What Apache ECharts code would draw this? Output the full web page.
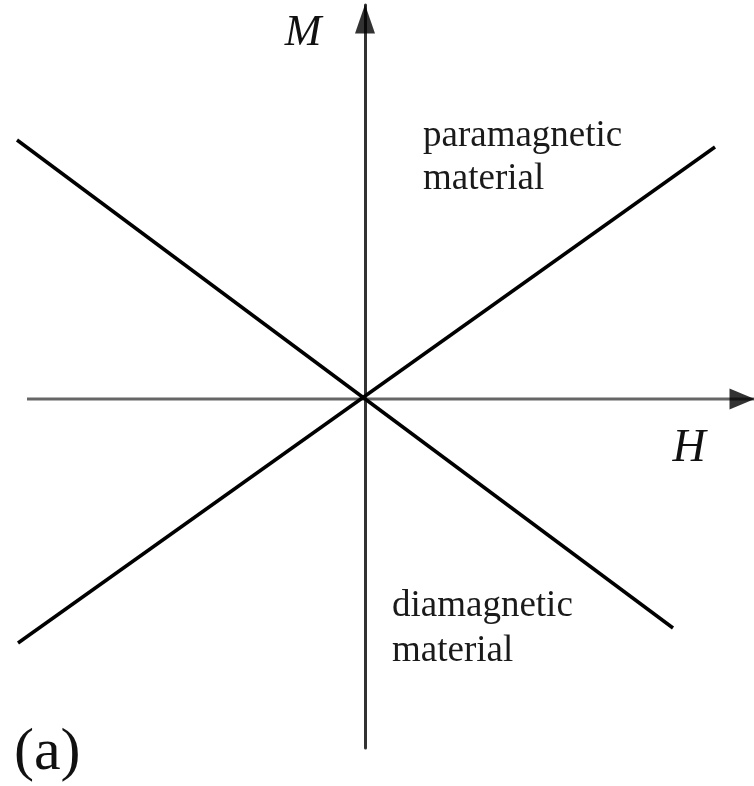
<!DOCTYPE html>
<html>
<head>
<meta charset="utf-8">
<script src="https://cdn.jsdelivr.net/npm/echarts@6/dist/echarts.min.js"></script>
<style>
  html, body { margin: 0; padding: 0; background: #fff; }
  #chart { width: 754px; height: 786px; }
</style>
</head>
<body>
<div id="chart"></div>
<script>
// Magnetization M versus applied field H (arbitrary units)
const paraH = [-3.47, 3.50];   // paramagnetic: M grows with H
const paraM = [-2.44, 2.52];
const diaH = [-3.48, 3.08];    // diamagnetic: M opposes H
const diaM = [2.59, -2.29];

// visible extent of the H axis line, and the plotted H / M ranges
const hAxisLine = [-3.38, 3.89];
const hRange = [-3.60, 3.89];
const mRange = [-3.49, 3.94];

const axisNames = { h: 'H', m: 'M' };
const regionLabels = {
  para: ['paramagnetic', 'material'],
  dia: ['diamagnetic', 'material']
};
const panelTag = '(a)';

const toPairs = (xs, ys) => xs.map((x, i) => [x, ys[i]]);

const serif = '"Liberation Serif", "DejaVu Serif", serif';

const chart = echarts.init(document.getElementById('chart'), null, { renderer: 'canvas' });

chart.setOption({
  animation: false,
  backgroundColor: '#ffffff',
  grid: { left: 5, right: 0, top: 5, bottom: 38 },
  xAxis: {
    type: 'value',
    min: hRange[0],
    max: hRange[1],
    axisLine: { show: false },
    axisTick: { show: false },
    axisLabel: { show: false },
    splitLine: { show: false }
  },
  yAxis: {
    type: 'value',
    min: mRange[0],
    max: mRange[1],
    axisLine: { onZero: true, lineStyle: { color: '#333333', width: 3 } },
    axisTick: { show: false },
    axisLabel: { show: false },
    splitLine: { show: false }
  },
  series: [
    {
      // the H axis itself
      name: 'H axis',
      type: 'line',
      data: toPairs(hAxisLine, [0, 0]),
      symbol: 'none',
      silent: true,
      lineStyle: { color: '#666666', width: 3 },
      z: 1
    },
    {
      name: 'paramagnetic',
      type: 'line',
      data: toPairs(paraH, paraM),
      symbol: 'none',
      lineStyle: { color: '#000', width: 3.5 },
      z: 5
    },
    {
      name: 'diamagnetic',
      type: 'line',
      data: toPairs(diaH, diaM),
      symbol: 'none',
      lineStyle: { color: '#000', width: 3.5 },
      z: 5
    },
    {
      // arrow heads at the positive ends of both axes
      name: 'arrows',
      type: 'scatter',
      clip: false,
      silent: true,
      z: 6,
      itemStyle: { color: '#000' },
      data: [
        { value: [hRange[1], 0], symbol: 'triangle', symbolSize: [21, 25], symbolRotate: -90, symbolOffset: [-12, 0] },
        { value: [0, mRange[1]], symbol: 'triangle', symbolSize: [20, 29], symbolRotate: 0, symbolOffset: [0, 14] }
      ]
    }
  ],
  graphic: [
    { type: 'text', style: { text: axisNames.m, x: 303, y: 33, font: 'italic 44px ' + serif, fill: '#111', align: 'center', verticalAlign: 'middle' } },
    { type: 'text', style: { text: axisNames.h, x: 689, y: 449, font: 'italic 46px ' + serif, fill: '#111', align: 'center', verticalAlign: 'middle' } },
    { type: 'text', style: { text: regionLabels.para[0], x: 423, y: 136, font: '37px ' + serif, fill: '#1a1a1a', align: 'left', verticalAlign: 'middle' } },
    { type: 'text', style: { text: regionLabels.para[1], x: 423, y: 179, font: '37px ' + serif, fill: '#1a1a1a', align: 'left', verticalAlign: 'middle' } },
    { type: 'text', style: { text: regionLabels.dia[0], x: 392, y: 606, font: '37px ' + serif, fill: '#1a1a1a', align: 'left', verticalAlign: 'middle' } },
    { type: 'text', style: { text: regionLabels.dia[1], x: 392, y: 651, font: '37px ' + serif, fill: '#1a1a1a', align: 'left', verticalAlign: 'middle' } },
    { type: 'text', style: { text: panelTag, x: 14, y: 753, font: '60px ' + serif, fill: '#111', align: 'left', verticalAlign: 'middle' } }
  ]
});
</script>
</body>
</html>
